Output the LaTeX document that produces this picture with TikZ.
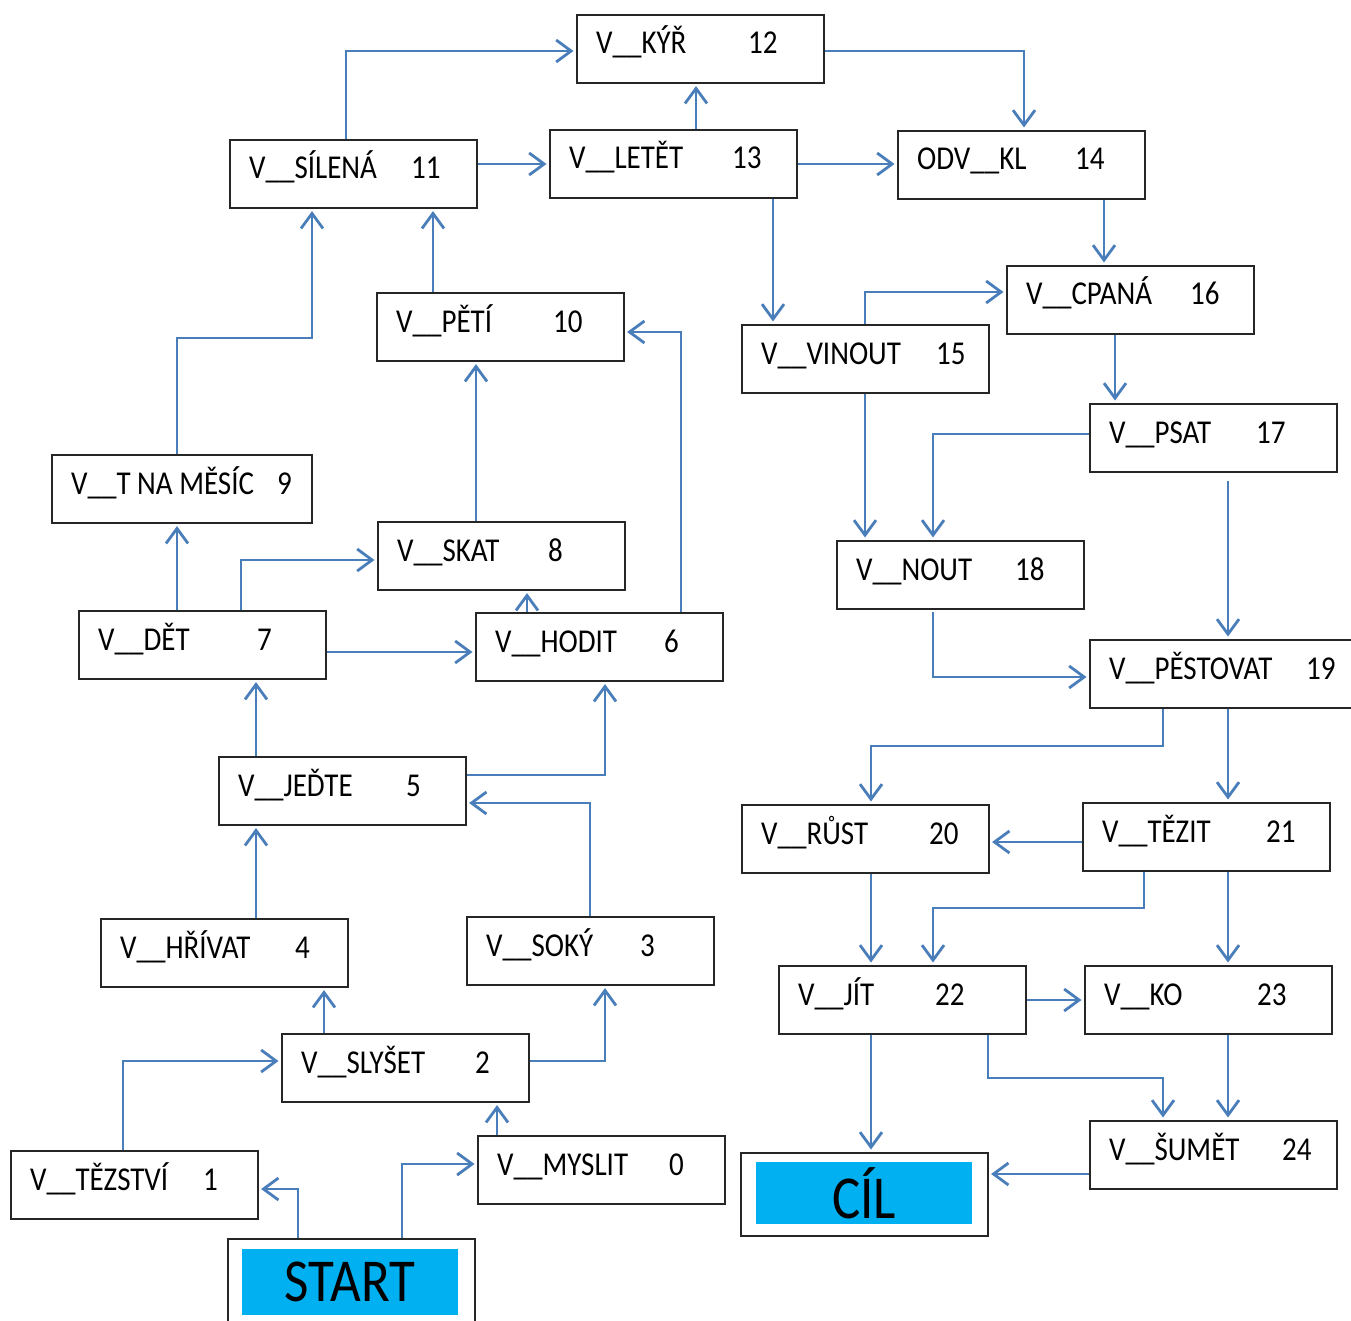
\documentclass[tikz,border=0pt]{standalone}
\usepackage{graphicx}
\usepackage{fontspec}
\setmainfont{Carlito}
\usetikzlibrary{arrows.meta,calc}
\definecolor{ln}{RGB}{74,126,187}
\definecolor{cy}{RGB}{0,176,240}
\newcommand\vs[1]{\scalebox{1}[1.15]{#1}}
\tikzset{
 box/.style={draw=black!85, line width=1.6pt, fill=white, inner sep=0pt, anchor=north west, minimum width=247pt, minimum height=68pt},
 lbl/.style={anchor=base west, inner sep=0pt, font=\fontsize{29}{34}\selectfont},
 big/.style={fill=cy, inner sep=0pt, anchor=north west, font=\fontsize{53}{60}\selectfont},
 conn/.style={draw=ln, line width=2.8pt, shorten >=2.5pt, -{Straight Barb[length=15pt,width=22pt,line width=2.8pt]}},
}
\newcommand\vb[7][]{%
 \node[box,#1] (#2) at (#3,#4) {};
 \node[lbl] (#2l) at (#3+20,#4+40) {\vs{#5}};
 \node[lbl] (#2n) at (#3+#6,#4+40) {\vs{#7}};}
\begin{document}
\begin{tikzpicture}[x=1pt,y=-1pt]
\useasboundingbox[fill=white] (0,0) rectangle (1351,1321);
% boxes
\vb{kyr}{576}{14}{V\_\_KÝŘ}{172}{12}
\vb{sil}{229}{139}{V\_\_SÍLENÁ}{182}{11}
\vb{let}{549}{129}{V\_\_LETĚT}{183}{13}
\vb{odv}{897}{130}{ODV\_\_KL}{178}{14}
\vb{cpa}{1006}{265}{V\_\_CPANÁ}{184}{16}
\vb{vin}{741}{324}{V\_\_VINOUT}{195}{15}
\vb{pet}{376}{292}{V\_\_PĚTÍ}{177}{10}
\vb{psa}{1089}{403}{V\_\_PSAT}{167}{17}
\vb[minimum width=260pt]{mes}{51}{454}{V\_\_T NA MĚSÍC}{226}{9}
\vb{ska}{377}{521}{V\_\_SKAT}{171}{8}
\vb{nou}{836}{540}{V\_\_NOUT}{179}{18}
\vb{det}{78}{610}{V\_\_DĚT}{179}{7}
\vb{hod}{475}{612}{V\_\_HODIT}{189}{6}
\vb[minimum width=280pt]{pes}{1089}{639}{V\_\_PĚSTOVAT}{217}{19}
\vb{jed}{218}{756}{V\_\_JEĎTE}{188}{5}
\vb{rus}{741}{804}{V\_\_RŮST}{188}{20}
\vb{tez}{1082}{802}{V\_\_TĚZIT}{184}{21}
\vb{hri}{100}{918}{V\_\_HŘÍVAT}{195}{4}
\vb{sok}{466}{916}{V\_\_SOKÝ}{174}{3}
\vb{jit}{778}{965}{V\_\_JÍT}{157}{22}
\vb{ko}{1084}{965}{V\_\_KO}{173}{23}
\vb{sly}{281}{1033}{V\_\_SLYŠET}{194}{2}
\vb{sum}{1089}{1120}{V\_\_ŠUMĚT}{193}{24}
\vb{mys}{477}{1135}{V\_\_MYSLIT}{192}{0}
\vb{tzs}{10}{1150}{V\_\_TĚZSTVÍ}{193}{1}
% start and goal
\node[box, minimum height=110pt] (start) at (227,1238) {};
\node[big, minimum width=216pt, minimum height=66pt] (startin) at (242,1249) {\vs{START}};
\node[box, minimum height=83pt] (cil) at (740,1152) {};
\node[big, minimum width=216pt, minimum height=62pt] (cilin) at (756,1162) {\vs{CÍL}};
% connectors
\draw[conn] (346,0 |- sil.north) |- (kyr.west |- 0,51);
\draw[conn] (696,0 |- let.north) -- (696,0 |- kyr.south);
\draw[conn] (kyr.east |- 0,51) -| (1024,0 |- odv.north);
\draw[conn] (sil.east |- 0,164) -- (let.west |- 0,164);
\draw[conn] (let.east |- 0,164) -- (odv.west |- 0,164);
\draw[conn] (773,0 |- let.south) -- (773,0 |- vin.north);
\draw[conn] (1104,0 |- odv.south) -- (1104,0 |- cpa.north);
\draw[conn] (865,0 |- vin.north) |- (cpa.west |- 0,292);
\draw[conn] (1115,0 |- cpa.south) -- (1115,0 |- psa.north);
\draw[conn] (865,0 |- vin.south) -- (865,0 |- nou.north);
\draw[conn] (psa.west |- 0,434) -| (933,0 |- nou.north);
\coordinate (psaout) at (1228,481);
\draw[conn] (psaout) -- (1228,0 |- pes.north);
\coordinate (nouout) at (933,612);
\draw[conn] (nouout) |- (pes.west |- 0,677);
\draw[conn] (1163,0 |- pes.south) -- (1163,746) -| (871,0 |- rus.north);
\draw[conn] (1228,0 |- pes.south) -- (1228,0 |- tez.north);
\draw[conn] (tez.west |- 0,842) -- (rus.east |- 0,842);
\draw[conn] (871,0 |- rus.south) -- (871,0 |- jit.north);
\draw[conn] (1144,0 |- tez.south) -- (1144,908) -| (933,0 |- jit.north);
\draw[conn] (1228,0 |- tez.south) -- (1228,0 |- ko.north);
\draw[conn] (jit.east |- 0,1000) -- (ko.west |- 0,1000);
\draw[conn] (871,0 |- jit.south) -- (871,0 |- cil.north);
\draw[conn] (988,0 |- jit.south) -- (988,1078) -| (1163,0 |- sum.north);
\draw[conn] (1228,0 |- ko.south) -- (1228,0 |- sum.north);
\draw[conn] (sum.west |- 0,1174) -- (cil.east |- 0,1174);
\draw[conn] (298,0 |- start.north) |- (tzs.east |- 0,1189);
\draw[conn] (402,0 |- start.north) |- (mys.west |- 0,1164);
\draw[conn] (497,0 |- mys.north) -- (497,0 |- sly.south);
\draw[conn] (123,0 |- tzs.north) |- (sly.west |- 0,1061);
\draw[conn] (324,0 |- sly.north) -- (324,0 |- hri.south);
\draw[conn] (sly.east |- 0,1061) -| (605,0 |- sok.south);
\draw[conn] (256,0 |- hri.north) -- (256,0 |- jed.south);
\draw[conn] (590,0 |- sok.north) |- (jed.east |- 0,803);
\draw[conn] (jed.east |- 0,775) -| (605,0 |- hod.south);
\draw[conn] (256,0 |- jed.north) -- (256,0 |- det.south);
\draw[conn] (177,0 |- det.north) -- (177,0 |- mes.south);
\draw[conn] (241,0 |- det.north) |- (ska.west |- 0,560);
\draw[conn] (det.east |- 0,652) -- (hod.west |- 0,652);
\draw[conn] (527,0 |- hod.north) -- (527,0 |- ska.south);
\draw[conn] (681,0 |- hod.north) |- (pet.east |- 0,332);
\draw[conn] (476,0 |- ska.north) -- (476,0 |- pet.south);
\draw[conn] (433,0 |- pet.north) -- (433,0 |- sil.south);
\draw[conn] (177,0 |- mes.north) -- (177,338) -| (312,0 |- sil.south);
\end{tikzpicture}
\end{document}
